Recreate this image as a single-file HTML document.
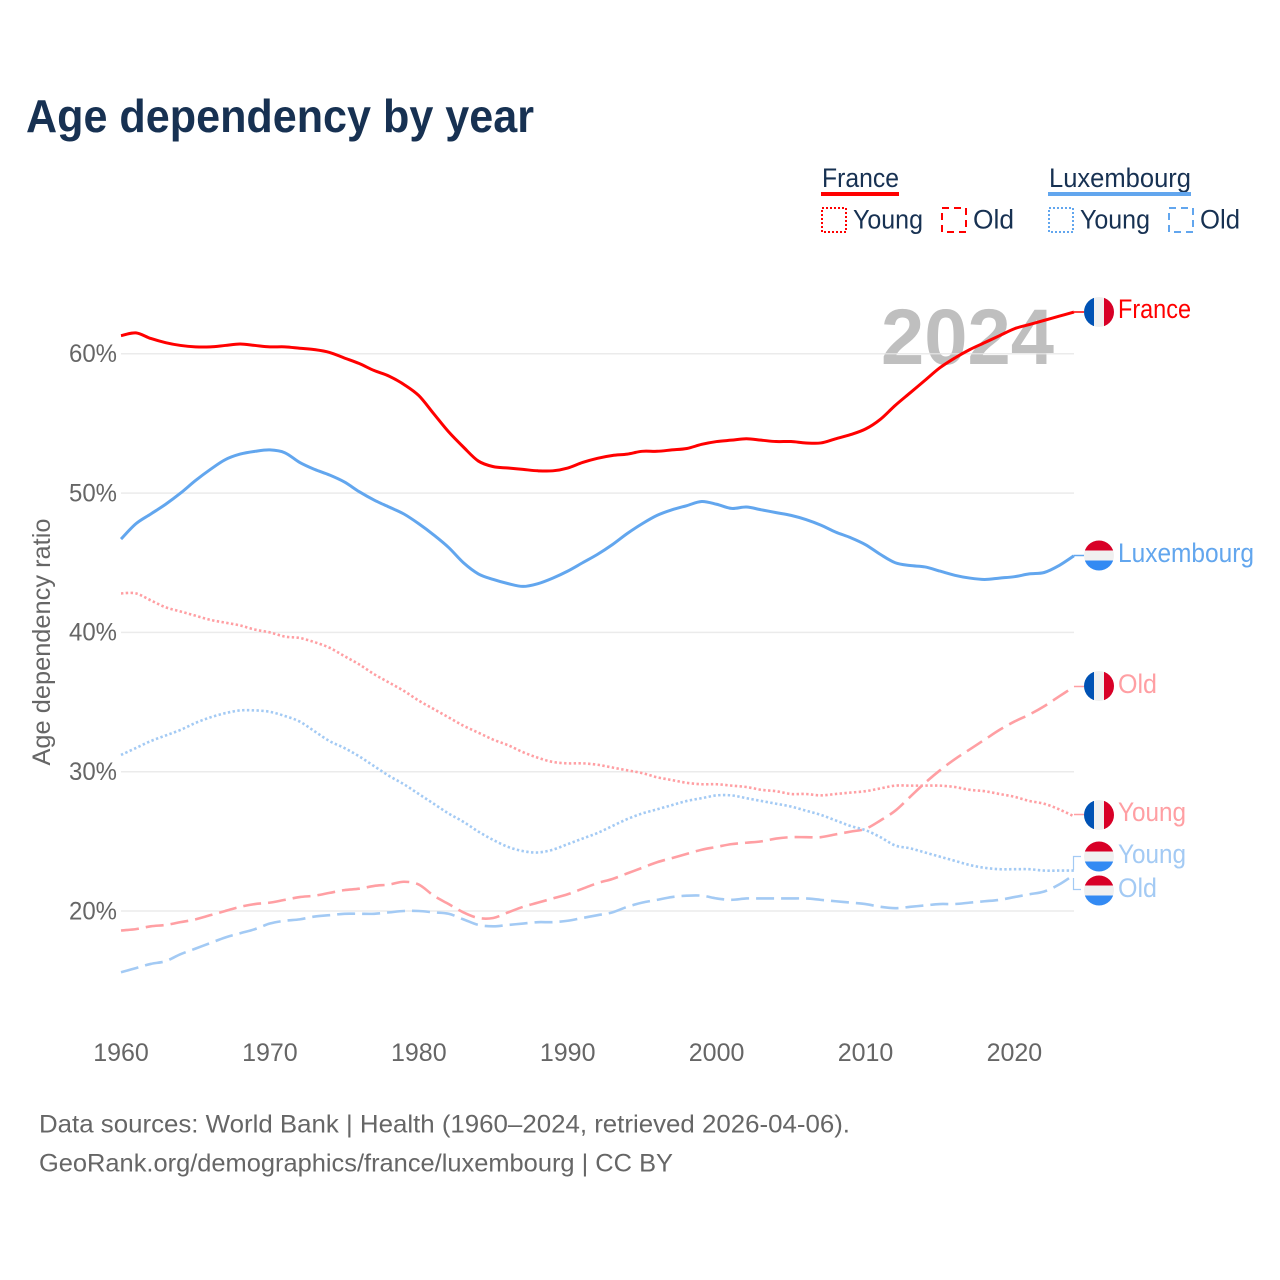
<!DOCTYPE html>
<html lang="en">
<head>
<meta charset="utf-8">
<title>Age dependency by year</title>
<style>
html,body{margin:0;padding:0;background:#fff;width:1280px;height:1280px;overflow:hidden}
svg{display:block}
text{font-family:"Liberation Sans",sans-serif}
</style>
</head>
<body>
<svg id="chart" xmlns="http://www.w3.org/2000/svg" width="1280" height="1280" viewBox="0 0 1280 1280">
  <defs>
    <clipPath id="flag-clip"><circle cx="0" cy="0" r="15"/></clipPath>
    <g id="flag-fr">
      <g clip-path="url(#flag-clip)">
        <rect x="-15" y="-15" width="30" height="30" fill="#f0f0f0"/>
        <rect x="-15" y="-15" width="10" height="30" fill="#0052b4"/>
        <rect x="5" y="-15" width="10" height="30" fill="#d80027"/>
      </g>
    </g>
    <g id="flag-lu">
      <g clip-path="url(#flag-clip)">
        <rect x="-15" y="-15" width="30" height="30" fill="#f0f0f0"/>
        <rect x="-15" y="-15" width="30" height="10" fill="#d80027"/>
        <rect x="-15" y="5" width="30" height="10" fill="#338af3"/>
      </g>
    </g>
  </defs>

  <text x="26" y="132" font-size="46.500" font-weight="700" fill="#173152" textLength="508" lengthAdjust="spacingAndGlyphs">Age dependency by year</text>

  <g>
    <g>
      <text x="822" y="187" font-size="26.500" fill="#173152" textLength="77" lengthAdjust="spacingAndGlyphs">France</text>
      <rect x="821" y="192" width="78" height="4" fill="#ff0000"/>
      <rect x="822" y="208" width="24" height="24" fill="none" stroke="#ff0000" stroke-width="2" stroke-dasharray="2 2"/>
      <text x="853" y="228.500" font-size="26.500" fill="#173152" textLength="70" lengthAdjust="spacingAndGlyphs">Young</text>
      <rect x="942" y="208" width="24" height="24" fill="none" stroke="#ff0000" stroke-width="2" stroke-dasharray="7 5"/>
      <text x="973" y="228.500" font-size="26.500" fill="#173152" textLength="41" lengthAdjust="spacingAndGlyphs">Old</text>
    </g>
    <g>
      <text x="1049" y="187" font-size="26.500" fill="#173152" textLength="142" lengthAdjust="spacingAndGlyphs">Luxembourg</text>
      <rect x="1048" y="192" width="143" height="4" fill="#62a6ee"/>
      <rect x="1049" y="208" width="24" height="24" fill="none" stroke="#62a6ee" stroke-width="2" stroke-dasharray="2 2"/>
      <text x="1080" y="228.500" font-size="26.500" fill="#173152" textLength="70" lengthAdjust="spacingAndGlyphs">Young</text>
      <rect x="1169" y="208" width="24" height="24" fill="none" stroke="#62a6ee" stroke-width="2" stroke-dasharray="7 5"/>
      <text x="1200" y="228.500" font-size="26.500" fill="#173152" textLength="40" lengthAdjust="spacingAndGlyphs">Old</text>
    </g>
  </g>

  <text x="881" y="364" font-size="79" font-weight="700" fill="#bfbfbf" textLength="173" lengthAdjust="spacingAndGlyphs">2024</text>

  <g id="grid"></g>
  <g id="y-axis"></g>
  <g id="x-axis"></g>
  <text transform="translate(50 642) rotate(-90)" text-anchor="middle" font-size="25" fill="#666666" textLength="247" lengthAdjust="spacingAndGlyphs">Age dependency ratio</text>
  <g id="series"></g>

  <g>
    <path d="M1074 312H1084" stroke="#ff0000" stroke-width="1.500" fill="none"/>
    <path d="M1074 555.500H1084" stroke="#62a6ee" stroke-width="1.500" fill="none"/>
    <path d="M1074 686.500H1084" stroke="#ff9fa3" stroke-width="1.500" fill="none"/>
    <path d="M1074 814.500H1084" stroke="#ff9fa3" stroke-width="1.500" fill="none"/>
    <path d="M1073.500 870V856.500H1081" stroke="#a3caf4" stroke-width="1.200" fill="none"/>
    <path d="M1073.500 878V889.500H1081" stroke="#a3caf4" stroke-width="1.200" fill="none"/>

    <use href="#flag-fr" x="1099" y="312"/>
    <text x="1118" y="318" font-size="26.500" fill="#ff0000" textLength="73" lengthAdjust="spacingAndGlyphs">France</text>

    <use href="#flag-lu" x="1099" y="555.500"/>
    <text x="1118" y="562" font-size="26.500" fill="#62a6ee" textLength="136" lengthAdjust="spacingAndGlyphs">Luxembourg</text>

    <use href="#flag-fr" x="1099" y="686"/>
    <text x="1118" y="693" font-size="26.500" fill="#ff9fa3" textLength="39" lengthAdjust="spacingAndGlyphs">Old</text>

    <use href="#flag-fr" x="1099" y="815"/>
    <text x="1118" y="821" font-size="26.500" fill="#ff9fa3" textLength="68" lengthAdjust="spacingAndGlyphs">Young</text>

    <use href="#flag-lu" x="1099" y="856.500"/>
    <text x="1118" y="863" font-size="26.500" fill="#a3caf4" textLength="68" lengthAdjust="spacingAndGlyphs">Young</text>

    <use href="#flag-lu" x="1099" y="890.500"/>
    <text x="1118" y="897" font-size="26.500" fill="#a3caf4" textLength="39" lengthAdjust="spacingAndGlyphs">Old</text>
  </g>

  <g>
    <text x="39" y="1132.500" font-size="25" fill="#666666" textLength="811" lengthAdjust="spacingAndGlyphs">Data sources: World Bank | Health (1960–2024, retrieved 2026-04-06).</text>
    <text x="39" y="1171.500" font-size="25" fill="#666666" textLength="634" lengthAdjust="spacingAndGlyphs">GeoRank.org/demographics/france/luxembourg | CC BY</text>
  </g>
</svg>

<script>
const startYear = 1960;
const xTickYears = [1960, 1970, 1980, 1990, 2000, 2010, 2020];
const yTickValues = [20, 30, 40, 50, 60];

const franceTotal = [
  61.3,61.5,61.1,60.8,60.6,60.5,60.5,60.6,60.7,60.6,
  60.5,60.5,60.4,60.3,60.1,59.7,59.3,58.8,58.4,57.8,
  57.0,55.7,54.4,53.3,52.3,51.9,51.8,51.7,51.6,51.6,
  51.8,52.2,52.5,52.7,52.8,53.0,53.0,53.1,53.2,53.5,
  53.7,53.8,53.9,53.8,53.7,53.7,53.6,53.6,53.9,54.2,
  54.6,55.3,56.3,57.2,58.1,59.0,59.7,60.3,60.8,61.3,
  61.8,62.1,62.4,62.7,63.0
];
const luxembourgTotal = [
  46.7,47.8,48.5,49.2,50.0,50.9,51.7,52.4,52.8,53.0,
  53.1,52.9,52.2,51.7,51.3,50.8,50.1,49.5,49.0,48.5,
  47.8,47.0,46.1,45.0,44.2,43.8,43.5,43.3,43.5,43.9,
  44.4,45.0,45.6,46.3,47.1,47.8,48.4,48.8,49.1,49.4,
  49.2,48.9,49.0,48.8,48.6,48.4,48.1,47.7,47.2,46.8,
  46.3,45.6,45.0,44.8,44.7,44.4,44.1,43.9,43.8,43.9,
  44.0,44.2,44.3,44.8,45.5
];
const franceYoung = [
  42.8,42.8,42.3,41.8,41.5,41.2,40.9,40.7,40.5,40.2,
  40.0,39.7,39.6,39.3,38.9,38.3,37.7,37.0,36.4,35.8,
  35.1,34.5,33.9,33.3,32.8,32.3,31.9,31.4,31.0,30.7,
  30.6,30.6,30.5,30.3,30.1,29.9,29.6,29.4,29.2,29.1,
  29.1,29.0,28.9,28.7,28.6,28.4,28.4,28.3,28.4,28.5,
  28.6,28.8,29.0,29.0,29.0,29.0,28.9,28.7,28.6,28.4,
  28.2,27.9,27.7,27.3,26.8
];
const franceOld = [
  18.6,18.7,18.9,19.0,19.2,19.4,19.7,20.0,20.3,20.5,
  20.6,20.8,21.0,21.1,21.3,21.5,21.6,21.8,21.9,22.1,
  21.9,21.1,20.5,19.9,19.5,19.5,19.9,20.3,20.6,20.9,
  21.2,21.6,22.0,22.3,22.7,23.1,23.5,23.8,24.1,24.4,
  24.6,24.8,24.9,25.0,25.2,25.3,25.3,25.3,25.5,25.7,
  25.9,26.5,27.2,28.2,29.2,30.1,30.9,31.6,32.3,33.0,
  33.6,34.1,34.7,35.4,36.1
];
const luxembourgYoung = [
  31.2,31.7,32.2,32.6,33.0,33.5,33.9,34.2,34.4,34.4,
  34.3,34.0,33.6,32.9,32.2,31.7,31.1,30.4,29.7,29.1,
  28.4,27.7,27.0,26.4,25.7,25.1,24.6,24.3,24.2,24.4,
  24.8,25.2,25.6,26.1,26.6,27.0,27.3,27.6,27.9,28.1,
  28.3,28.3,28.1,27.9,27.7,27.5,27.2,26.9,26.5,26.1,
  25.8,25.3,24.7,24.5,24.2,23.9,23.6,23.3,23.1,23.0,
  23.0,23.0,22.9,22.9,22.9
];
const luxembourgOld = [
  15.6,15.9,16.2,16.4,16.9,17.3,17.7,18.1,18.4,18.7,
  19.1,19.3,19.4,19.6,19.7,19.8,19.8,19.8,19.9,20.0,
  20.0,19.9,19.8,19.4,19.0,18.9,19.0,19.1,19.2,19.2,
  19.3,19.5,19.7,19.9,20.3,20.6,20.8,21.0,21.1,21.1,
  20.9,20.8,20.9,20.9,20.9,20.9,20.9,20.8,20.7,20.6,
  20.5,20.3,20.2,20.3,20.4,20.5,20.5,20.6,20.7,20.8,
  21.0,21.2,21.4,21.9,22.6
];

const NS = 'http://www.w3.org/2000/svg';
function xScale(year) { return 121 + (year - 1960) * 14.89; }
function yScale(value) { return 911 - (value - 20) * 13.93; }
function linePath(values) {
  const pts = values.map(function (v, i) { return [xScale(startYear + i), yScale(v)]; });
  let d = 'M' + pts[0][0].toFixed(2) + ' ' + pts[0][1].toFixed(2);
  for (let i = 0; i < pts.length - 1; i++) {
    const p0 = pts[Math.max(i - 1, 0)];
    const p1 = pts[i];
    const p2 = pts[i + 1];
    const p3 = pts[Math.min(i + 2, pts.length - 1)];
    d += 'C' + (p1[0] + (p2[0] - p0[0]) / 6).toFixed(2) + ' ' + (p1[1] + (p2[1] - p0[1]) / 6).toFixed(2) +
         ' ' + (p2[0] - (p3[0] - p1[0]) / 6).toFixed(2) + ' ' + (p2[1] - (p3[1] - p1[1]) / 6).toFixed(2) +
         ' ' + p2[0].toFixed(2) + ' ' + p2[1].toFixed(2);
  }
  return d;
}
function drawSeries(values, name, color, width, dash) {
  const p = document.createElementNS(NS, 'path');
  
  
  p.setAttribute('d', linePath(values));
  p.setAttribute('fill', 'none');
  p.setAttribute('stroke', color);
  p.setAttribute('stroke-width', width);
  p.setAttribute('stroke-linejoin', 'round');
  if (dash) p.setAttribute('stroke-dasharray', dash);
  document.getElementById('series').appendChild(p);
}

yTickValues.forEach(function (v) {
  const line = document.createElementNS(NS, 'line');
  
  
  line.setAttribute('x1', 121);
  line.setAttribute('x2', 1074);
  line.setAttribute('y1', yScale(v));
  line.setAttribute('y2', yScale(v));
  line.setAttribute('stroke', '#e6e6e6');
  line.setAttribute('stroke-opacity', '0.8');
  line.setAttribute('stroke-width', 1.5);
  document.getElementById('grid').appendChild(line);

  const label = document.createElementNS(NS, 'text');
  
  
  label.setAttribute('x', 117);
  label.setAttribute('y', yScale(v) + 8.3);
  label.setAttribute('text-anchor', 'end');
  label.setAttribute('font-size', 25);
  label.setAttribute('fill', '#666666');
  label.setAttribute('textLength', 48);
  label.setAttribute('lengthAdjust', 'spacingAndGlyphs');
  label.textContent = v + '%';
  document.getElementById('y-axis').appendChild(label);
});

xTickYears.forEach(function (year) {
  const label = document.createElementNS(NS, 'text');
  
  
  label.setAttribute('x', xScale(year));
  label.setAttribute('y', 1061);
  label.setAttribute('text-anchor', 'middle');
  label.setAttribute('font-size', 25);
  label.setAttribute('fill', '#666666');
  label.textContent = year;
  document.getElementById('x-axis').appendChild(label);
});

drawSeries(franceYoung, 'line-france-young', '#ff9fa3', 2.6, '2.4 2.4');
drawSeries(franceOld, 'line-france-old', '#ff9fa3', 2.6, '18 7');
drawSeries(luxembourgYoung, 'line-luxembourg-young', '#a3caf4', 2.6, '2.4 2.4');
drawSeries(luxembourgOld, 'line-luxembourg-old', '#a3caf4', 2.6, '18 7');
drawSeries(luxembourgTotal, 'line-luxembourg-total', '#62a6ee', 3, '');
drawSeries(franceTotal, 'line-france-total', '#ff0000', 3, '');
</script>
</body>
</html>
